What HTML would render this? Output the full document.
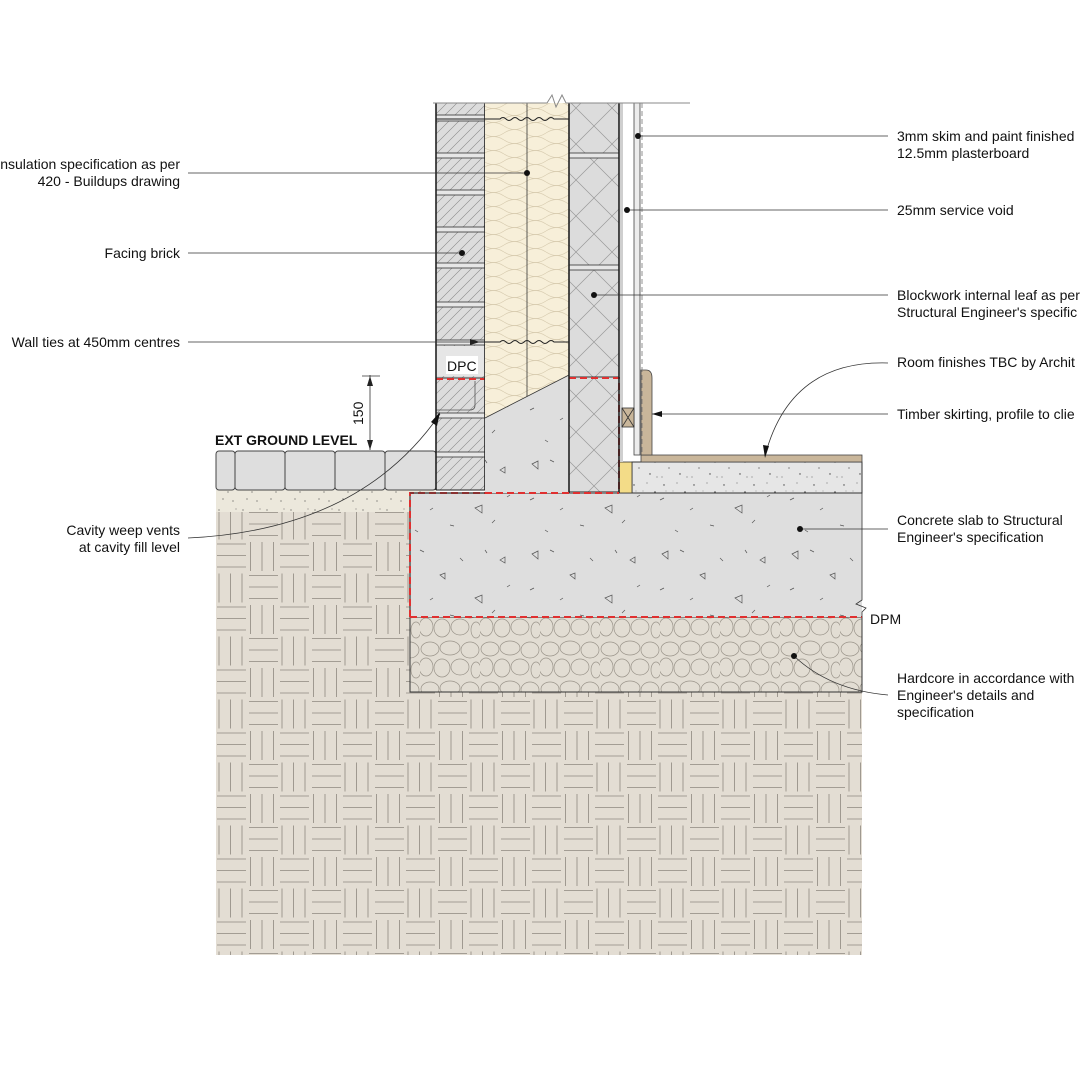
<!DOCTYPE html>
<html><head><meta charset="utf-8"><style>
html,body{margin:0;padding:0;background:#fff}
svg{display:block}
text{font-family:"Liberation Sans",Arial,sans-serif;font-size:14px;fill:#111}
</style></head><body>
<svg width="1080" height="1080" viewBox="0 0 1080 1080" xmlns="http://www.w3.org/2000/svg">
<defs>
<pattern id="brick" width="10" height="10" patternUnits="userSpaceOnUse">
<rect width="10" height="10" fill="#dcdcdc"/>
<path d="M0 10 L10 0 M-2 2 L2 -2 M8 12 L12 8" stroke="#888" stroke-width="0.6"/>
</pattern>
<pattern id="block" width="36" height="36" patternUnits="userSpaceOnUse">
<rect width="36" height="36" fill="#dcdcdc"/>
<path d="M0 0 L36 36 M36 0 L0 36" stroke="#999" stroke-width="0.7"/>
</pattern>
<pattern id="ins" width="42" height="14" patternUnits="userSpaceOnUse">
<rect width="42" height="14" fill="#f7efd9"/>
<path d="M0 7 Q10.5 0 21 7 T42 7" fill="none" stroke="#d8ccb0" stroke-width="0.7"/>
<path d="M0 0 Q10.5 7 21 0 T42 0 M0 14 Q10.5 21 21 14 T42 14" fill="none" stroke="#d8ccb0" stroke-width="0.7"/>
</pattern>
<pattern id="soil" width="63" height="63" patternUnits="userSpaceOnUse" x="216" y="509.5">
<rect width="63" height="63" fill="#e3ddd3"/>
<g stroke="#8e887f" stroke-width="0.8">
<path d="M3 1 V30 M14.5 1 V30 M26 1 V30"/>
<path d="M33 3 H62 M33 14.5 H62 M33 26 H62"/>
<path d="M1 34.5 H30 M1 46 H30 M1 57.5 H30"/>
<path d="M34.5 32.5 V61.5 M46 32.5 V61.5 M57.5 32.5 V61.5"/>
</g>
</pattern>
<pattern id="core" width="60" height="40" patternUnits="userSpaceOnUse">
<rect width="60" height="40" fill="#e2ddd3"/>
<g fill="none" stroke="#9a948a" stroke-width="0.7">
<ellipse cx="10" cy="9" rx="9" ry="7"/><ellipse cx="30" cy="8" rx="10" ry="7"/><ellipse cx="50" cy="10" rx="9" ry="8"/>
<ellipse cx="6" cy="27" rx="7" ry="9"/><ellipse cx="22" cy="28" rx="8" ry="9"/><ellipse cx="40" cy="27" rx="9" ry="8"/><ellipse cx="56" cy="30" rx="5" ry="8"/>
</g>
</pattern>
<pattern id="screed" width="30" height="30" patternUnits="userSpaceOnUse">
<rect width="30" height="30" fill="#e6e6e6"/>
<g fill="#444"><circle cx="4" cy="5" r="0.7"/><circle cx="17" cy="3" r="0.5"/><circle cx="25" cy="12" r="0.8"/><circle cx="9" cy="18" r="0.6"/><circle cx="20" cy="24" r="0.7"/><circle cx="2" cy="27" r="0.5"/><circle cx="13" cy="11" r="0.4"/><circle cx="27" cy="27" r="0.5"/><circle cx="6" cy="11" r="0.4"/></g>
</pattern>
<pattern id="sand" width="24" height="22" patternUnits="userSpaceOnUse">
<rect width="24" height="22" fill="#ece8dc"/>
<g fill="#555"><circle cx="3" cy="4" r="0.6"/><circle cx="12" cy="8" r="0.6"/><circle cx="20" cy="3" r="0.5"/><circle cx="7" cy="15" r="0.6"/><circle cx="17" cy="17" r="0.6"/></g>
</pattern>
<pattern id="conc" width="130" height="90" patternUnits="userSpaceOnUse">
<rect width="130" height="90" fill="#dedede"/>
<g fill="none" stroke="#555" stroke-width="0.7">
<path d="M12 14 l6 -3 l0 8 z M85 58 l7 -3 l0 8 z M50 35 l5 -2 l0 6 z M110 20 l5 -3 l0 6 z"/>
<path d="M30 10 l4 2 M70 18 l3 3 M10 50 l4 -2 M60 75 l4 1 M105 70 l-3 3 M25 80 l3 2 M95 10 l2 3 M40 60 l3 -2 M120 45 l-3 2"/>
</g>
</pattern>
</defs>

<rect x="216" y="512" width="646" height="443" fill="url(#soil)"/>
<rect x="216" y="490" width="220" height="22" fill="url(#sand)"/>
<g fill="#dedede" stroke="#444" stroke-width="1">
<rect x="216" y="451" width="19" height="39" rx="3"/>
<rect x="235" y="451" width="50" height="39" rx="3"/>
<rect x="285" y="451" width="50" height="39" rx="3"/>
<rect x="335" y="451" width="50" height="39" rx="3"/>
<rect x="385" y="451" width="51" height="39" rx="3"/>
</g>
<rect x="410" y="617" width="452" height="75" fill="url(#core)" stroke="#333" stroke-width="1"/>
<rect x="410" y="493" width="452" height="124" fill="url(#conc)"/>
<path d="M410 617 V493 H485" fill="none" stroke="#333" stroke-width="1.2"/>
<path d="M410 617 V493 H485 M410 617 H862" fill="none" stroke="#e03030" stroke-width="2" stroke-dasharray="7 4"/>
<path d="M410 493 H862" stroke="#333" stroke-width="1"/>
<path d="M862 493 V600 l-6 4 l10 4 l-4 4 V617" fill="none" stroke="#333" stroke-width="0.8"/>
<rect x="632" y="462" width="230" height="31" fill="url(#screed)" stroke="#333" stroke-width="1"/>
<rect x="619" y="462" width="13" height="31" fill="#f3dc88" stroke="#333" stroke-width="0.8"/>
<rect x="641" y="455" width="221" height="7" fill="#c9b69a" stroke="#444" stroke-width="0.8"/>
<path d="M641 455 V370 h5 q6 0 6 8 V455 z" fill="#c9b69a" stroke="#444" stroke-width="0.8"/>
<rect x="436" y="103" width="49" height="387" fill="url(#brick)"/>
<g fill="#e6e6e6" stroke="#333" stroke-width="0.8">
<rect x="436" y="115" width="49" height="6"/><rect x="436" y="153" width="49" height="5"/><rect x="436" y="190" width="49" height="5"/><rect x="436" y="227" width="49" height="5"/><rect x="436" y="263" width="49" height="5"/><rect x="436" y="302" width="49" height="5"/><rect x="436" y="340" width="49" height="5"/><rect x="436" y="413" width="49" height="5"/><rect x="436" y="452" width="49" height="5"/>
</g>
<rect x="436" y="346" width="49" height="30" fill="#e6e6e6"/>
<rect x="446" y="356" width="32" height="18" fill="#fff"/>
<text x="447" y="371">DPC</text>
<path d="M436 378 H485" stroke="#333" stroke-width="1"/>
<path d="M436 379 H485" stroke="#e03030" stroke-width="2" stroke-dasharray="7 4"/>
<path d="M475 381 V405 q0 5 -5 5 H436" fill="none" stroke="#555" stroke-width="0.8"/>
<path d="M436 103 V490 M485 103 V490" stroke="#222" stroke-width="1.6"/>
<path d="M436 490 H485" stroke="#222" stroke-width="1"/>
<path d="M485 103 H569 V375 L485 418 Z" fill="url(#ins)"/>
<path d="M527 103 V397" stroke="#333" stroke-width="0.8"/>
<path d="M485 418 L569 375 V493 H485 Z" fill="url(#conc)"/>
<path d="M485 418 L569 375" stroke="#333" stroke-width="0.8"/>
<rect x="569" y="103" width="50" height="390" fill="url(#block)"/>
<g fill="#e6e6e6" stroke="#333" stroke-width="0.8">
<rect x="569" y="153" width="50" height="5"/><rect x="569" y="265" width="50" height="5"/>
</g>
<path d="M569 377 H619" stroke="#333" stroke-width="1"/>
<path d="M569 378 H619 V493" fill="none" stroke="#e03030" stroke-width="2" stroke-dasharray="7 4"/>
<path d="M569 103 V493 M619 103 V493" stroke="#222" stroke-width="1.6"/>
<path d="M569 492 H619" stroke="#222" stroke-width="1"/>
<path d="M485 493 H619" stroke="#e03030" stroke-width="2" stroke-dasharray="7 4"/>
<rect x="620" y="103" width="3" height="359" fill="#cfcfcf"/>
<rect x="634" y="103" width="6" height="352" fill="#ececec" stroke="#444" stroke-width="0.8"/>
<path d="M642 103 V455" stroke="#777" stroke-width="0.8" stroke-dasharray="5 3"/>
<rect x="622" y="408" width="12" height="19" fill="#c9b69a" stroke="#333" stroke-width="0.8"/>
<path d="M622 408 L634 427 M634 408 L622 427" stroke="#333" stroke-width="0.8"/>
<path d="M433 103 H547 l5 -8 l4 12 l6 -12 l4 8 H690" fill="none" stroke="#888" stroke-width="1"/>
<path d="M436 119 H500 q3 -3 6 0 t6 0 t6 0 t6 0 t6 0 t6 0 t6 0 t6 0 t6 0 H569" fill="none" stroke="#222" stroke-width="1"/>
<path d="M470 342 H500 q3 -3 6 0 t6 0 t6 0 t6 0 t6 0 t6 0 t6 0 t6 0 t6 0 H569" fill="none" stroke="#222" stroke-width="1"/>
<path d="M470 339 l10 3 l-10 3 z" fill="#222"/>

<path d="M370 375 V450 M362 376 H380" stroke="#333" stroke-width="0.8"/>
<path d="M370 376 l-3 10 h6 z M370 450 l-3 -10 h6 z" fill="#222"/>
<text x="0" y="0" transform="translate(363 425) rotate(-90)">150</text>
<text x="215" y="445" font-weight="bold" font-size="12.5">EXT GROUND LEVEL</text>

<g text-anchor="end">
<text x="180" y="169">nsulation specification as per</text>
<text x="180" y="186">420 - Buildups drawing</text>
<text x="180" y="258">Facing brick</text>
<text x="180" y="347">Wall ties at 450mm centres</text>
<text x="180" y="535">Cavity weep vents</text>
<text x="180" y="552">at cavity fill level</text>
</g>
<g stroke="#333" stroke-width="0.8" fill="none">
<path d="M188 173 H527"/><path d="M188 253 H462"/><path d="M188 342 H470"/>
<path d="M188 538 Q360 530 440 414"/>
<path d="M638 136 H888"/><path d="M627 210 H888"/><path d="M594 295 H888"/>
<path d="M888 363 Q790 360 765 456"/>
<path d="M652 414 H888"/>
<path d="M800 529 H888"/>
<path d="M794 656 Q830 690 888 695"/>
</g>
<g fill="#111">
<circle cx="527" cy="173" r="3"/><circle cx="462" cy="253" r="3"/>
<circle cx="638" cy="136" r="3"/><circle cx="627" cy="210" r="3"/><circle cx="594" cy="295" r="3"/>
<circle cx="800" cy="529" r="3"/><circle cx="794" cy="656" r="3"/>
<path d="M440 412 l-3 14 l-6 -4 z"/>
<path d="M765 458 l-2 -13 l6 1 z"/>
<path d="M652 414 l10 -3 v6 z"/>
</g>
<text x="897" y="141">3mm skim and paint finished</text>
<text x="897" y="158">12.5mm plasterboard</text>
<text x="897" y="215">25mm service void</text>
<text x="897" y="300">Blockwork internal leaf as per</text>
<text x="897" y="317">Structural Engineer's specific</text>
<text x="897" y="367">Room finishes TBC by Archit</text>
<text x="897" y="419">Timber skirting, profile to clie</text>
<text x="897" y="525">Concrete slab to Structural</text>
<text x="897" y="542">Engineer's specification</text>
<text x="870" y="624">DPM</text>
<text x="897" y="683">Hardcore in accordance with</text>
<text x="897" y="700">Engineer's details and</text>
<text x="897" y="717">specification</text>
</svg>
</body></html>
